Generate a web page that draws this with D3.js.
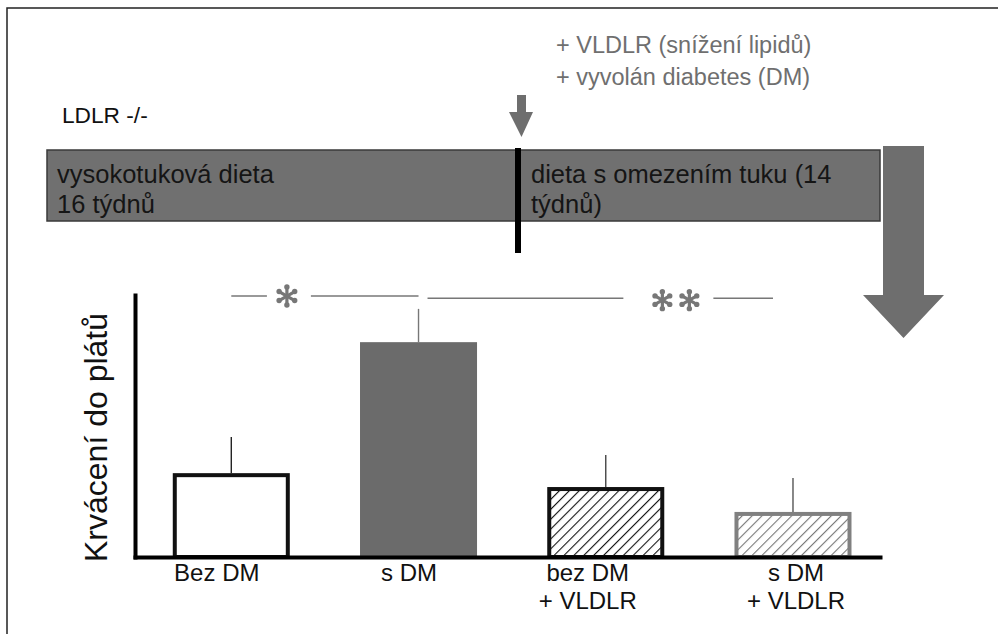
<!DOCTYPE html>
<html>
<head>
<meta charset="utf-8">
<script src="https://cdn.jsdelivr.net/npm/d3@7"></script>
<style>
body { margin: 0; background: #fff; }
text { font-family: "Liberation Sans", Arial, sans-serif; }
</style>
</head>
<body>
<script>
//chart data
var categories = ["Bez DM", "s DM", "bez DM\n+ VLDLR", "s DM\n+ VLDLR"];
var values = [32, 82, 26.7, 17.2];      //mean plaque haemorrhage (relative units)
var errors = [13.8, 12.7, 12.2, 13.0];  //upper error bar
var yLabel = "Krvácení do plátů";
var headerLines = ["+ VLDLR (snížení lipidů)", "+ vyvolán diabetes (DM)"];
var bandLeftLines = ["vysokotuková dieta", "16 týdnů"];
var bandRightLines = ["dieta s omezením tuku (14", "týdnů)"];

var width = 998, height = 634;

var svg = d3.select("body").append("svg")
    .attr("width", width)
    .attr("height", height);

//hatch patterns
var defs = svg.append("defs");
function hatch(id, color){
    var p = defs.append("pattern")
        .attr("id", id)
        .attr("patternUnits", "userSpaceOnUse")
        .attr("width", 7)
        .attr("height", 7)
        .attr("patternTransform", "rotate(45)");
    p.append("rect").attr("width", 7).attr("height", 7).attr("fill", "#fff");
    p.append("line")
        .attr("x1", 0).attr("y1", 0).attr("x2", 0).attr("y2", 7)
        .attr("stroke", color)
        .attr("stroke-width", 2.2);
}
hatch("hatchBlack", "#111");
hatch("hatchGray", "#777");

//outer frame (only left and top edges visible)
svg.append("rect")
    .attr("x", 7).attr("y", 8)
    .attr("width", 1100).attr("height", 800)
    .attr("fill", "none")
    .attr("stroke", "#222")
    .attr("stroke-width", 1.5);

//header texts
svg.selectAll(".header")
    .data(headerLines)
    .enter()
    .append("text")
    .attr("class", "header")
    .attr("x", 556)
    .attr("y", function(d, i){ return 53 + i * 32; })
    .attr("fill", "#6f6f6f")
    .style("font-size", "23.5px")
    .text(function(d){ return d; });

svg.append("text")
    .attr("x", 62).attr("y", 123)
    .attr("fill", "#111")
    .style("font-size", "22.7px")
    .text("LDLR -/-");

//timeline band
svg.append("rect")
    .attr("x", 47).attr("y", 150)
    .attr("width", 833).attr("height", 71)
    .attr("fill", "#707070")
    .attr("stroke", "#3a3a3a")
    .attr("stroke-width", 1.5);

svg.selectAll(".bandL")
    .data(bandLeftLines)
    .enter()
    .append("text")
    .attr("x", 57)
    .attr("y", function(d, i){ return 183 + i * 30; })
    .attr("fill", "#151515")
    .style("font-size", "25.5px")
    .text(function(d){ return d; });

svg.selectAll(".bandR")
    .data(bandRightLines)
    .enter()
    .append("text")
    .attr("x", 531)
    .attr("y", function(d, i){ return 183 + i * 30; })
    .attr("fill", "#151515")
    .style("font-size", "25.5px")
    .text(function(d){ return d; });

//black divider
svg.append("rect")
    .attr("x", 515).attr("y", 148)
    .attr("width", 6).attr("height", 105)
    .attr("fill", "#000");

//small arrow
svg.append("path")
    .attr("d", "M517,95 L526,95 L526,112 L533,112 L521.5,137 L509,112 L517,112 Z")
    .attr("fill", "#6e6e6e");

//big arrow
svg.append("path")
    .attr("d", "M883,146 L924,146 L924,295 L944,295 L903.5,338 L863,295 L883,295 Z")
    .attr("fill", "#6e6e6e");

//chart scales
var x = d3.scaleBand()
    .domain(categories)
    .range([135, 880])
    .paddingInner(0.375)
    .paddingOuter(0.177)
    .align(0.57);

var y = d3.scaleLinear()
    .domain([0, 100])
    .range([557, 295]);

var chart = svg.append("g");

//bar styles
var fills = ["#fff", "#6b6b6b", "url(#hatchBlack)", "url(#hatchGray)"];
var strokes = ["#111", "none", "#111", "#808080"];
var sw = 4;

chart.selectAll(".bar")
    .data(values)
    .enter()
    .append("rect")
    .attr("class", "bar")
    .attr("x", function(d, i){ return x(categories[i]) + (strokes[i] == "none" ? 0 : sw / 2); })
    .attr("y", function(d, i){ return y(d) + (strokes[i] == "none" ? 0 : sw / 2); })
    .attr("width", function(d, i){ return x.bandwidth() - (strokes[i] == "none" ? 0 : sw); })
    .attr("height", function(d, i){ return y(0) - y(d) - (strokes[i] == "none" ? 0 : sw / 2); })
    .attr("fill", function(d, i){ return fills[i]; })
    .attr("stroke", function(d, i){ return strokes[i]; })
    .attr("stroke-width", sw);

//error bars (upper only)
var errColors = ["#222", "#777", "#444", "#555"];
chart.selectAll(".err")
    .data(values)
    .enter()
    .append("line")
    .attr("class", "err")
    .attr("x1", function(d, i){ return x(categories[i]) + x.bandwidth() / 2; })
    .attr("x2", function(d, i){ return x(categories[i]) + x.bandwidth() / 2; })
    .attr("y1", function(d){ return y(d); })
    .attr("y2", function(d, i){ return y(d + errors[i]); })
    .attr("stroke", function(d, i){ return errColors[i]; })
    .attr("stroke-width", 1.4);

//axes (no ticks)
var yAxis = chart.append("g")
    .attr("transform", "translate(135,0)")
    .call(d3.axisLeft(y).ticks(0).tickSizeOuter(0));
var xAxis = chart.append("g")
    .attr("transform", "translate(0,557)")
    .call(d3.axisBottom(x).tickSize(0).tickFormat(""));
chart.selectAll(".domain")
    .attr("stroke", "#000")
    .attr("stroke-width", 4)
    .attr("stroke-linecap", "square");

//category labels
var labelOffset = [-14.5, -9.5, -18, 3];
categories.forEach(function(c, i){
    var t = chart.append("text")
        .attr("text-anchor", "middle")
        .attr("fill", "#111")
        .style("font-size", "24px");
    c.split("\n").forEach(function(line, j){
        t.append("tspan")
            .attr("x", x(c) + x.bandwidth() / 2 + labelOffset[i])
            .attr("y", 581 + j * 28)
            .text(line);
    });
});

//y label
svg.append("text")
    .attr("transform", "translate(107,562) rotate(-90)")
    .attr("fill", "#111")
    .style("font-size", "32px")
    .text(yLabel);

//significance annotations
var sigColor = "#777";
function cx(i){ return x(categories[i]) + x.bandwidth() / 2; }

function asterisk(g, px, py, r){
    [90, 30, 150].forEach(function(a){
        var rad = a * Math.PI / 180;
        var dx = Math.cos(rad) * r, dy = Math.sin(rad) * r;
        g.append("line")
            .attr("x1", px - dx).attr("y1", py - dy)
            .attr("x2", px + dx).attr("y2", py + dy)
            .attr("stroke", sigColor)
            .attr("stroke-width", 3.2)
            .attr("stroke-linecap", "round");
        [1, -1].forEach(function(s){
            g.append("circle")
                .attr("cx", px + s * dx).attr("cy", py + s * dy)
                .attr("r", 2.7)
                .attr("fill", sigColor);
        });
    });
}

var sig = svg.append("g");
var y1 = y(99.6), y2 = y(98.8);
var star1 = (cx(0) + cx(1)) / 2 - 38;
sig.append("line").attr("x1", cx(0)).attr("x2", star1 - 20).attr("y1", y1).attr("y2", y1);
sig.append("line").attr("x1", star1 + 24).attr("x2", cx(1)).attr("y1", y1).attr("y2", y1);
asterisk(sig, star1, y1, 9);

var star2 = (cx(2) + cx(3)) / 2 - 24;
sig.append("line").attr("x1", cx(1) + 9).attr("x2", star2 - 52).attr("y1", y2).attr("y2", y2);
sig.append("line").attr("x1", star2 + 38).attr("x2", cx(3) - 20).attr("y1", y2).attr("y2", y2);
asterisk(sig, star2 - 13, y2 + 2, 8.5);
asterisk(sig, star2 + 14, y2 + 2, 8.5);

sig.selectAll("line:not([stroke])")
    .attr("stroke", sigColor)
    .attr("stroke-width", 1.5);
</script>
</body>
</html>
